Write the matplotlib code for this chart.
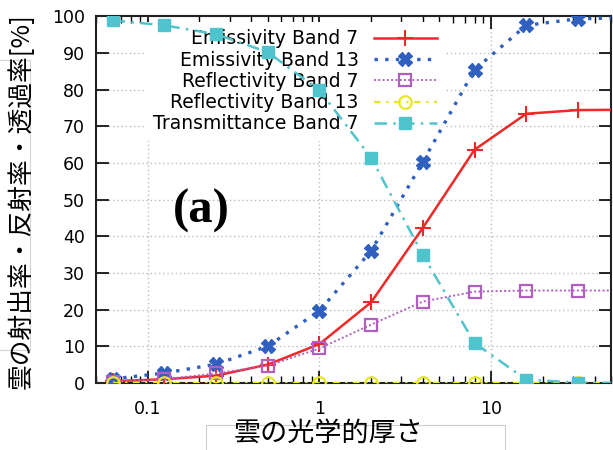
import matplotlib
matplotlib.use('Agg')
import matplotlib.pyplot as plt
from matplotlib.patches import Rectangle
from matplotlib.ticker import LogLocator, NullFormatter, FixedLocator

plt.rcParams['font.family'] = ['DejaVu Sans', 'Noto Sans CJK JP']

# optical thickness (log scale), last point lies beyond the right edge
tau = [0.0625, 0.125, 0.25, 0.5, 1, 2, 4, 8, 16, 32, 64]

emis_b7 = [0.5, 1.0, 2.0, 5.0, 10.6, 22.0, 42.3, 63.6, 73.4, 74.4, 74.5]
emis_b13 = [1.1, 2.7, 5.1, 10.0, 19.7, 36.0, 60.3, 85.4, 97.5, 99.3, 99.6]
refl_b7 = [0.3, 1.0, 2.6, 4.7, 9.4, 15.9, 22.2, 24.9, 25.2, 25.2, 25.2]
refl_b13 = [0.0, 0.0, 0.0, 0.0, 0.0, 0.0, 0.0, 0.0, 0.0, 0.0, 0.0]
trans_b7 = [98.9, 97.5, 95.1, 90.2, 79.8, 61.4, 34.9, 10.9, 0.9, 0.1, 0.0]

labels = ['Emissivity Band 7', 'Emissivity Band 13', 'Reflectivity Band 7',
          'Reflectivity Band 13', 'Transmittance Band 7']

fig = plt.figure(figsize=(6.13, 4.5), dpi=100)
ax = fig.add_axes([0.1566, 0.149, 0.8405, 0.815])

ax.plot(tau, emis_b7, color='#f02828', ls='-', lw=1.8, marker='+', ms=11, mew=1.5,
        label=labels[0], zorder=3)
ax.plot(tau, emis_b13, color='#2f5fbf', ls=(0, (1, 2.2)), lw=2.4, marker='X', ms=10,
        label=labels[1], zorder=3)
ax.plot(tau, refl_b7, color='#b060c0', ls=(0, (1, 1.2)), lw=1.4, marker='s', ms=9,
        mfc='none', mew=1.6, label=labels[2], zorder=3)
ax.plot(tau, refl_b13, color='#e8e820', ls=(0, (3, 2.5, 1, 2.5)), lw=1.6, marker='o', ms=9,
        mfc='none', mew=1.6, label=labels[3], zorder=3)
ax.plot(tau, trans_b7, color='#50c4cc', ls=(0, (5, 2.5, 1, 2.5)), lw=1.8, marker='s', ms=9,
        label=labels[4], zorder=3)

ax.set_xscale('log')
ax.set_xlim(0.05, 50)
ax.set_ylim(0, 100)
ax.set_yticks(range(0, 101, 10))
ax.xaxis.set_major_locator(FixedLocator([0.1, 1, 10]))
ax.set_xticklabels(['0.1', '1', '10'])
ax.xaxis.set_minor_locator(LogLocator(base=10, subs=range(2, 10)))
ax.xaxis.set_minor_formatter(NullFormatter())

ax.tick_params(axis='both', which='both', direction='in', top=True, right=True, labelsize=12.5)
ax.tick_params(axis='both', which='major', length=9, width=1.2)
ax.tick_params(axis='x', which='minor', length=5, width=1.0)
ax.tick_params(axis='x', which='major', pad=12)
ax.tick_params(axis='y', which='major', pad=8)
for s in ax.spines.values():
    s.set_linewidth(1.5)
    s.set_color('#222222')

ax.set_axisbelow(True)
ax.grid(True, which='major', color='#bbbbbb', ls=(0, (1, 2)), lw=1.0)

# axis titles placed by hand, like the original
fig.text(21 / 613, 1 - 201 / 450, '雲の射出率・反射率・透過率[%]', rotation=90,
         ha='center', va='center', fontsize=18.5, family=['Noto Sans CJK JP', 'DejaVu Sans'])
fig.text(329 / 613, 1 - 433 / 450, '雲の光学的厚さ', ha='center', va='center',
         fontsize=19.5, family=['Noto Sans CJK JP', 'DejaVu Sans'])

leg = ax.legend(loc='upper right', bbox_to_anchor=(0.688, 1.0), markerfirst=False,
                fontsize=13.5, handlelength=3.4, handletextpad=0.8, labelspacing=0.12,
                borderaxespad=0.3, frameon=True, facecolor='white', edgecolor='none',
                framealpha=1.0, fancybox=False)
leg.set_zorder(2)

ax.text(0.205, 0.469, '(a)', transform=ax.transAxes, ha='center', va='center',
        fontsize=35, fontweight='bold', family='Liberation Serif')

# faint boxes left around the axis titles in the original
fig.patches.append(Rectangle((0.336, -0.1), 0.488, 0.1556, transform=fig.transFigure,
                             fill=False, edgecolor='#cccccc', lw=0.8))
fig.patches.append(Rectangle((-0.05, 0.222), 0.099, 0.644, transform=fig.transFigure,
                             fill=False, edgecolor='#d4d4d4', lw=0.8, zorder=0))

fig.savefig('out.png', dpi=100)
